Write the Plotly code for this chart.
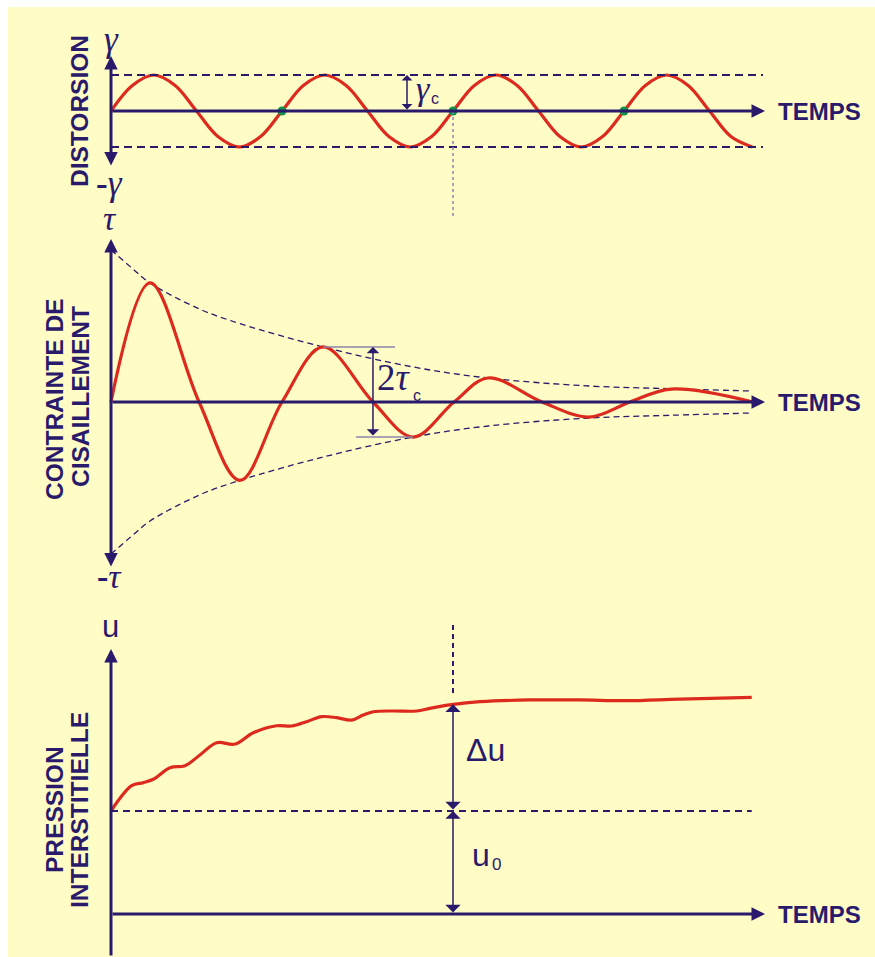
import plotly.graph_objects as go

# ---------------- data ----------------
# Time is expressed in loading cycles (1 = one period of the imposed strain).

# Imposed cyclic shear strain, in units of the amplitude gamma_c
strain_t = [0.000, 0.125, 0.250, 0.375, 0.500, 0.625, 0.750, 0.875,
            1.000, 1.125, 1.250, 1.375, 1.500, 1.625, 1.750, 1.875,
            2.000, 2.125, 2.250, 2.375, 2.500, 2.625, 2.750, 2.875,
            3.000, 3.125, 3.250, 3.375, 3.500, 3.625, 3.750]
strain_v = [0.00, 0.71, 1.00, 0.71, 0.00, -0.71, -1.00, -0.71,
            0.00, 0.71, 1.00, 0.71, 0.00, -0.71, -1.00, -0.71,
            0.00, 0.71, 1.00, 0.71, 0.00, -0.71, -1.00, -0.71,
            0.00, 0.71, 1.00, 0.71, 0.00, -0.71, -1.00]
cycle_marks = [1.0, 2.0, 3.0]          # end of each strain cycle

# Shear stress response (fraction of tau): crossings and extrema of each half-cycle
stress_t = [0.000, 0.228, 0.515, 0.754, 1.000, 1.240, 1.532, 1.766,
            2.006, 2.205, 2.520, 2.795, 3.035, 3.275, 3.754]
stress_v = [0.000, 0.744, 0.000, -0.490, 0.000, 0.344, 0.000, -0.219,
            0.000, 0.150, 0.000, -0.094, 0.000, 0.081, 0.000]
i_pk, i_zero, i_tr = 5, 6, 7          # second-cycle peak, crossing and trough

# Envelope of the stress peaks
envelope_t = [0.000, 0.130, 0.228, 0.520, 0.754, 1.240, 1.766, 2.205, 2.795, 3.275, 3.730]
envelope_a = [0.950, 0.830, 0.744, 0.580, 0.490, 0.344, 0.219, 0.150, 0.100, 0.083, 0.069]

# Pore pressure build-up (in units of the initial pressure u0)
pore_t = [0.000, 0.121, 0.189, 0.247, 0.345, 0.433, 0.520, 0.618, 0.725, 0.832,
          0.969, 1.057, 1.144, 1.232, 1.320, 1.408, 1.475, 1.534, 1.651, 1.788,
          1.865, 2.002, 2.158, 2.450, 2.743, 3.016, 3.327, 3.747]
pore_u = [1.000, 1.246, 1.275, 1.308, 1.420, 1.440, 1.544, 1.663, 1.650, 1.760,
          1.828, 1.825, 1.867, 1.916, 1.906, 1.883, 1.932, 1.964, 1.971, 1.971,
          1.997, 2.036, 2.061, 2.078, 2.078, 2.071, 2.087, 2.104]
i_mark = 21                            # sample at the second cycle end
u0 = 1.0

# ---------------- styling ----------------
W, H = 875, 957
NAVY = "#2a1a6c"
RED = "#dc2a1e"
GREEN = "#12934a"
GREYLINE = "#8c84aa"
BG = "#fffcc6"
SANS = "Liberation Sans"
SERIF = "Liberation Serif"

T_PX = 171.0       # pixels per cycle
X0_PX = 111.0      # pixel column of the time origin


def px_to_t(px):
    return (px - X0_PX) / T_PX


def xp(px):
    return px / W


def yp(py):
    return 1 - py / H


# each panel: (top px, bottom px, zero px, px per unit)
P1 = (0, 240, 111, 36.0)
P2 = (200, 600, 402, 160.0)
P3 = (600, 957, 914, 103.0)


def yrange(p):
    top, bot, zero, s = p
    return [(zero - bot) / s, (zero - top) / s]


def ydomain(p):
    return [yp(p[1]), yp(p[0])]


def to_units(p, py):
    return (p[2] - py) / p[3]


T_END = px_to_t(765)   # tip of the time axes

fig = go.Figure()

# --- panel 1 : strain ---
fig.add_trace(go.Scatter(x=strain_t, y=strain_v, mode="lines", xaxis="x", yaxis="y",
                         line=dict(color=RED, width=3.2, shape="spline", smoothing=1.0),
                         hoverinfo="skip"))
fig.add_trace(go.Scatter(x=cycle_marks, y=[0] * len(cycle_marks), mode="markers",
                         xaxis="x", yaxis="y", cliponaxis=False,
                         marker=dict(color=GREEN, size=9), hoverinfo="skip"))

# --- panel 2 : stress ---
upper = list(envelope_a)
lower = [-a for a in envelope_a]
for env in (upper, lower):
    fig.add_trace(go.Scatter(x=envelope_t, y=env, mode="lines", xaxis="x", yaxis="y2",
                             line=dict(color=NAVY, width=1.3, dash="6px,4px",
                                       shape="spline"),
                             hoverinfo="skip"))
fig.add_trace(go.Scatter(x=stress_t, y=stress_v, mode="lines", xaxis="x", yaxis="y2",
                         line=dict(color=RED, width=3.2, shape="spline", smoothing=1.0),
                         hoverinfo="skip"))

# --- panel 3 : pore pressure ---
fig.add_trace(go.Scatter(x=pore_t, y=pore_u, mode="lines", xaxis="x", yaxis="y3",
                         line=dict(color=RED, width=3.2, shape="spline", smoothing=1.0),
                         hoverinfo="skip"))

shapes = [
    # yellow sheet
    dict(type="rect", xref="paper", yref="paper", x0=xp(8), x1=1, y0=0, y1=yp(7),
         fillcolor=BG, line=dict(width=0), layer="below"),
    # +/- gamma_c limits
    dict(type="line", xref="x", yref="y", x0=0, x1=px_to_t(763), y0=1, y1=1,
         line=dict(color=NAVY, width=2, dash="8px,5px")),
    dict(type="line", xref="x", yref="y", x0=0, x1=px_to_t(763), y0=-1, y1=-1,
         line=dict(color=NAVY, width=2, dash="8px,5px")),
    # dotted marker from the second cycle end
    dict(type="line", xref="x", yref="y", x0=cycle_marks[1], x1=cycle_marks[1],
         y0=0, y1=to_units(P1, 218),
         line=dict(color=GREYLINE, width=1.5, dash="dot")),
    # u0 level
    dict(type="line", xref="x", yref="y3", x0=0, x1=pore_t[-1], y0=u0, y1=u0,
         line=dict(color=NAVY, width=2, dash="7px,5px")),
    # vertical dashed mark above the curve at the second cycle
    dict(type="line", xref="x", yref="y3", x0=cycle_marks[1], x1=cycle_marks[1],
         y0=to_units(P3, 693), y1=to_units(P3, 623),
         line=dict(color=NAVY, width=2, dash="5px,4px")),
]

# 2 tau_c reference ticks (peak and trough of the second cycle)
shapes.append(dict(type="line", xref="x", yref="y2", x0=stress_t[i_pk], x1=px_to_t(395),
                   y0=stress_v[i_pk], y1=stress_v[i_pk],
                   line=dict(color=GREYLINE, width=1.5)))
shapes.append(dict(type="line", xref="x", yref="y2", x0=px_to_t(356), x1=stress_t[i_tr],
                   y0=stress_v[i_tr], y1=stress_v[i_tr],
                   line=dict(color=GREYLINE, width=1.5)))


def arrow(yref, x0, y0, x1, y1, width, size, head=2, both=False):
    d = dict(x=x1, y=y1, ax=x0, ay=y0, xref="x", yref=yref, axref="x", ayref=yref,
             text="", showarrow=True, arrowhead=head, arrowsize=size, arrowwidth=width,
             arrowcolor=NAVY, arrowside="end+start" if both else "end",
             standoff=0, startstandoff=0)
    if both:
        d.update(startarrowhead=head, startarrowsize=size)
    return d


def label(px, py, text, size, family, angle=0, xanchor="center"):
    return dict(x=xp(px), y=yp(py), xref="paper", yref="paper", text=text,
                showarrow=False, textangle=angle, xanchor=xanchor, yanchor="middle",
                font=dict(family=family, size=size, color=NAVY))


ann = []
# axes
ann.append(arrow("y", 0, to_units(P1, 167), 0, to_units(P1, 56), 3, 0.9, both=True))
ann.append(arrow("y", 0, 0, T_END, 0, 3, 0.9))
ann.append(arrow("y2", 0, to_units(P2, 568), 0, to_units(P2, 239), 3, 0.9, both=True))
ann.append(arrow("y2", 0, 0, T_END, 0, 3, 0.9))
ann.append(arrow("y3", 0, yrange(P3)[0], 0, to_units(P3, 649), 3, 0.9))
ann.append(arrow("y3", 0, 0, T_END, 0, 3, 0.9))

# dimension arrows
ann.append(arrow("y", px_to_t(407), 0, px_to_t(407), 1, 1.5, 1.2, head=1, both=True))
ann.append(arrow("y2", stress_t[i_zero], stress_v[i_tr], stress_t[i_zero], stress_v[i_pk],
                 1.5, 1.4, head=1, both=True))
ann.append(arrow("y3", cycle_marks[1], u0, cycle_marks[1], pore_u[i_mark], 1.5, 1.7,
                 head=1, both=True))
ann.append(arrow("y3", cycle_marks[1], 0, cycle_marks[1], u0, 1.5, 1.7,
                 head=1, both=True))

# axis titles
ann.append(label(79, 111, "<b>DISTORSION</b>", 24.5, SANS, angle=-90))
ann.append(label(54, 400, "<b>CONTRAINTE DE</b>", 24.5, SANS, angle=-90))
ann.append(label(80, 397, "<b>CISAILLEMENT</b>", 24.5, SANS, angle=-90))
ann.append(label(54, 810, "<b>PRESSION</b>", 24.5, SANS, angle=-90))
ann.append(label(79, 810, "<b>INTERSTITIELLE</b>", 24.5, SANS, angle=-90))
for py in (111, 402, 914):
    ann.append(label(776, py, "<b>TEMPS</b>", 24, SANS, xanchor="left"))

# symbols
ann.append(label(111, 40, "<i>γ</i>", 35, SERIF))
ann.append(label(109, 184, "<b>-</b><i>γ</i>", 35, SERIF))
ann.append(label(423, 89, "<i>γ</i>", 34, SERIF))
ann.append(label(435, 98, "c", 16, SANS))
ann.append(label(110, 218, "<i>τ</i>", 34, SERIF))
ann.append(label(109, 576, "<b>-</b><i>τ</i>", 34, SERIF))
ann.append(label(394, 377, "2<i>τ</i>", 37, SERIF))
ann.append(label(417, 396, "c", 16, SANS))
ann.append(label(110, 626, "u", 31, SANS))
ann.append(label(485, 750, "Δu", 32, SANS))
ann.append(label(481, 855, "u", 32, SANS))
ann.append(label(496, 864, "0", 17, SANS))

hidden = dict(visible=False, fixedrange=True, showgrid=False, zeroline=False)
fig.update_layout(
    width=W, height=H,
    margin=dict(l=0, r=0, t=0, b=0),
    paper_bgcolor="white",
    plot_bgcolor="rgba(0,0,0,0)",
    showlegend=False,
    xaxis=dict(range=[px_to_t(0), px_to_t(W)], domain=[0, 1], anchor="y3", **hidden),
    yaxis=dict(range=yrange(P1), domain=ydomain(P1), anchor="x", **hidden),
    yaxis2=dict(range=yrange(P2), domain=ydomain(P2), anchor="x", **hidden),
    yaxis3=dict(range=yrange(P3), domain=ydomain(P3), anchor="x", **hidden),
    shapes=shapes,
    annotations=ann,
)

fig.write_html("out.html")
